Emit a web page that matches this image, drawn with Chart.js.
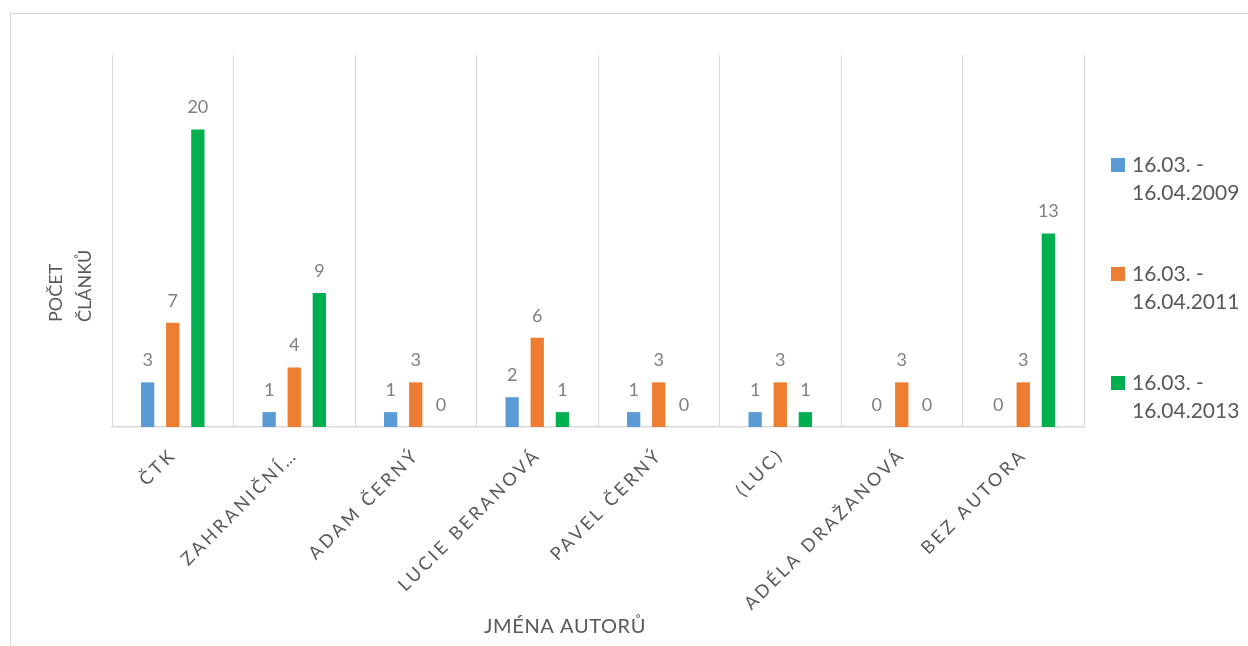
<!DOCTYPE html>
<html>
<head>
<meta charset="utf-8">
<script src="https://cdn.jsdelivr.net/npm/chart.js@4.4.1/dist/chart.umd.min.js"></script>
<style>
  body { margin: 0; background: #fff; overflow: hidden; }
  #frame { position: absolute; left: 10px; top: 13px; width: 1400px; height: 800px; border: 1px solid #d9d9d9; }
  #authorsChart { position: absolute; left: 0; top: 0; }
</style>
</head>
<body>
<div id="frame"></div>
<canvas id="authorsChart" width="1248" height="646"></canvas>
<script>
/* Data */
let authors = ["ČTK", "ZAHRANIČNÍ…", "ADAM ČERNÝ", "LUCIE BERANOVÁ", "PAVEL ČERNÝ", "(LUC)", "ADÉLA DRAŽANOVÁ", "BEZ AUTORA"];
let seriesNames = ["16.03. - 16.04.2009", "16.03. - 16.04.2011", "16.03. - 16.04.2013"];
let articles2009 = [3, 1, 1, 2, 1, 1, 0, 0];
let articles2011 = [7, 4, 3, 6, 3, 3, 3, 3];
let articles2013 = [20, 9, 0, 1, 0, 1, 0, 13];
let seriesColors = ["#5b9bd5", "#ed7d31", "#00b050"];
let yTitle = ["POČET", "ČLÁNKŮ"];
let xTitle = "JMÉNA AUTORŮ";

let fontFamily = "Lato, 'Open Sans', sans-serif";
let textColor = "#595959";

/* Labels, titles and legend drawn by hand */
const chartText = {
    id: "chartText",
    afterDatasetsDraw(chart) {
        const ctx = chart.ctx;
        // value labels above the bars
        ctx.save();
        ctx.font = "18px " + fontFamily;
        ctx.fillStyle = "#7f7f7f";
        ctx.textAlign = "center";
        ctx.textBaseline = "bottom";
        chart.data.datasets.forEach((ds, i) => {
            chart.getDatasetMeta(i).data.forEach((bar, j) => {
                ctx.fillText(ds.data[j], bar.x, bar.y - 13);
            });
        });
        ctx.restore();
    },
    afterDraw(chart) {
        const ctx = chart.ctx;
        const x = chart.scales.x;
        const area = chart.chartArea;

        // category labels, rotated and letter spaced
        ctx.save();
        ctx.font = "18px " + fontFamily;
        ctx.fillStyle = textColor;
        ctx.letterSpacing = "3px";
        ctx.textAlign = "right";
        ctx.textBaseline = "alphabetic";
        authors.forEach((name, i) => {
            ctx.save();
            ctx.translate(x.getPixelForValue(i) + 4.5, area.bottom + 29);
            ctx.rotate(-Math.PI / 4);
            ctx.fillText(name, 0, 0);
            ctx.restore();
        });
        ctx.restore();

        // axis titles
        ctx.save();
        ctx.font = "20px " + fontFamily;
        ctx.fillStyle = textColor;
        ctx.letterSpacing = "0.6px";
        ctx.textAlign = "center";
        ctx.textBaseline = "middle";
        ctx.fillText(xTitle, 565, 627);
        ctx.font = "18px " + fontFamily;
        ctx.letterSpacing = "0px";
        ctx.translate(56.5, 322);
        ctx.rotate(-Math.PI / 2);
        ctx.textAlign = "left";
        yTitle.forEach((line, i) => ctx.fillText(line, 0, i * 29));
        ctx.restore();

        // legend
        ctx.save();
        ctx.font = "21px " + fontFamily;
        ctx.textAlign = "left";
        ctx.textBaseline = "middle";
        chart.data.datasets.forEach((ds, i) => {
            const top = 165 + i * 109;
            ctx.fillStyle = ds.backgroundColor;
            ctx.fillRect(1111, top - 7, 14, 14);
            ctx.fillStyle = textColor;
            const cut = ds.label.indexOf("- ") + 1;
            ctx.fillText(ds.label.slice(0, cut), 1132, top);
            ctx.fillText(ds.label.slice(cut + 1), 1132, top + 28);
        });
        ctx.restore();
    }
};

new Chart("authorsChart", {
    type: "bar",
    data: {
        labels: authors,
        datasets: [
            { label: seriesNames[0], data: articles2009, backgroundColor: seriesColors[0] },
            { label: seriesNames[1], data: articles2011, backgroundColor: seriesColors[1] },
            { label: seriesNames[2], data: articles2013, backgroundColor: seriesColors[2] }
        ]
    },
    options: {
        responsive: false,
        animation: false,
        categoryPercentage: 0.62,
        barPercentage: 0.53,
        layout: { padding: { left: 104, top: 55, right: 164, bottom: 219 } },
        plugins: {
            legend: { display: false },
            tooltip: { enabled: false }
        },
        scales: {
            x: {
                grid: { display: true, offset: true, color: "#d9d9d9", drawTicks: false },
                border: { display: true, color: "#d9d9d9", width: 1.5 },
                ticks: { display: false }
            },
            y: {
                min: 0,
                max: 25,
                grid: { display: false },
                border: { display: false },
                ticks: { display: false }
            }
        }
    },
    plugins: [chartText]
});
</script>
</body>
</html>
